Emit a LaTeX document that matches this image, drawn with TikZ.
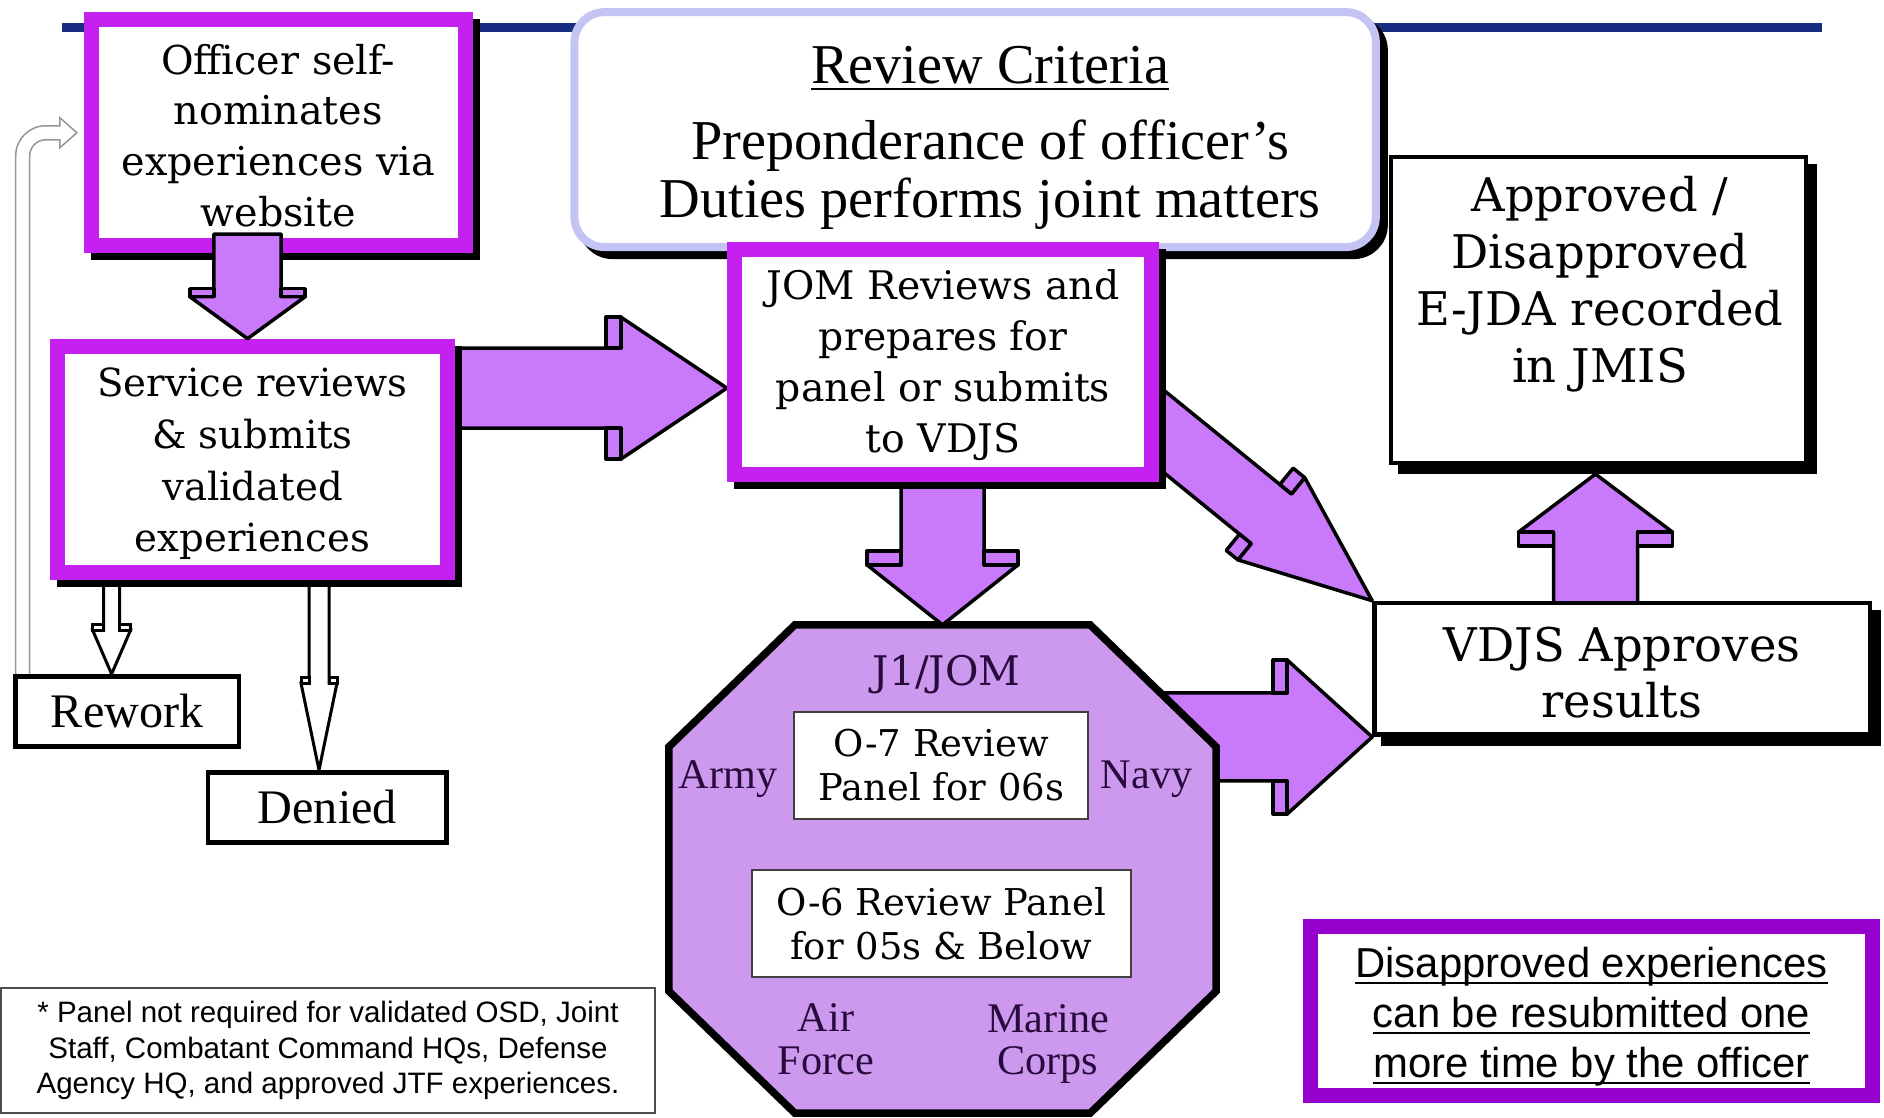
\documentclass[tikz,border=0pt]{standalone}
\usepackage{fontspec}
\setmainfont{Liberation Serif}
\setsansfont{Liberation Sans}
\newfontfamily\widefont{DejaVu Serif}
\usepackage{xcolor}
\usepackage{tikz}
\usetikzlibrary{calc,shadows,backgrounds}

\definecolor{boxpurple}{RGB}{196,32,240}
\definecolor{arrowpurple}{RGB}{200,122,250}
\definecolor{octpurple}{RGB}{204,153,238}
\definecolor{lavender}{RGB}{196,196,244}
\definecolor{navyline}{RGB}{24,44,130}
\definecolor{darkviolet}{RGB}{150,0,205}
\definecolor{octtext}{RGB}{40,10,60}
\definecolor{loopgray}{RGB}{150,150,150}

\newcommand{\pptul}[1]{\setbox0\hbox{#1}\rlap{\rule[-1.9pt]{\wd0}{0.6pt}}\box0}

% block arrow: style, from, to, shaft half width, head half width, head length, notch depth (px)
\newcommand{\blockarrow}[7][fat arrow]{%
    \coordinate (ba-b) at ($(#3)!#6*0.01cm!(#2)$);
    \coordinate (ba-n) at ($(#3)!#6*0.01cm+#7*0.01cm!(#2)$);
    \filldraw[#1] ($(#2)!#4*0.01cm!90:(#3)$) -- ($(ba-b)!#4*0.01cm!90:(#3)$)
        -- ($(ba-b)!#5*0.01cm!90:(#3)$) -- (#3)
        -- ($(ba-b)!#5*0.01cm!-90:(#3)$) -- ($(ba-b)!#4*0.01cm!-90:(#3)$)
        -- ($(#2)!#4*0.01cm!-90:(#3)$) -- cycle;
    \foreach \side in {90,-90}
        \filldraw[#1] ($(ba-n)!#4*0.01cm!\side:(#3)$) -- ($(ba-n)!#5*0.01cm!\side:(#3)$)
            -- ($(ba-b)!#5*0.01cm!\side:(#3)$) -- ($(ba-b)!#4*0.01cm!\side:(#3)$) -- cycle;
}

\begin{document}
\begin{tikzpicture}[x=0.01cm, y=-0.01cm,
        purple box/.style={draw=boxpurple, line width=0.15cm, fill=white, inner sep=0pt,
            drop shadow={shadow xshift=0.07cm, shadow yshift=-0.07cm, opacity=1, fill=black, draw=black}},
        black box/.style={draw=black, line width=0.045cm, fill=white, inner sep=0pt,
            drop shadow={shadow xshift=0.09cm, shadow yshift=-0.09cm, opacity=1, fill=black, draw=black}},
        thin box/.style={draw=black, line width=0.045cm, fill=white, inner sep=0pt,
            font=\fontsize{13.7}{16}\selectfont},
        panel box/.style={draw=black!75, line width=0.02cm, fill=white, inner sep=0pt, align=center,
            font=\widefont\fontsize{10.5}{12.4}\selectfont},
        box text/.style={align=center, inner sep=0pt},
        service label/.style={text=octtext, align=center, font=\fontsize{12}{12.2}\selectfont},
        fat arrow/.style={fill=arrowpurple, draw=black, line width=0.035cm, line join=round},
        hollow arrow/.style={fill=white, draw=black, line width=0.03cm},
        octagon fill/.style={fill=octpurple, draw=black, line width=0.075cm}]

    \useasboundingbox (0,0) rectangle (1884,1118);

    \node[purple box, minimum width=3.735cm, minimum height=2.255cm] (officer) at (278.25,132.75) {};
    \node[box text, font=\widefont\fontsize{11.3}{14.4}\selectfont] (officertext) at ($(officer.center)+(0,2.5)$)
        {Officer self-\\nominates\\experiences via\\website};
    \node[purple box, minimum width=3.9cm, minimum height=2.263cm] (service) at (252.5,459.4) {};
    \node[box text, font=\widefont\fontsize{11}{14.7}\selectfont] (servicetext) at ($(service.center)+(0,4.5)$)
        {Service reviews\\\& submits\\validated\\experiences};
    \node[purple box, minimum width=4.17cm, minimum height=2.25cm] (jom) at (943,361.7) {};
    \node[box text, font=\widefont\fontsize{11.2}{14.5}\selectfont] (jomtext) at ($(jom.center)+(0,3.8)$)
        {JOM Reviews and\\prepares for\\panel or submits\\to VDJS};
    \node[black box, minimum width=4.145cm, minimum height=3.055cm] (approved) at (1598.5,310) {};
    \node[box text, font=\widefont\fontsize{13.2}{16.2}\selectfont] (approvedtext) at ($(approved.center)+(1.5,-25.5)$)
        {Approved /\\Disapproved\\E-JDA recorded\\in JMIS};
    \node[black box, minimum width=4.95cm, minimum height=1.317cm] (vdjs) at (1622.1,668.85) {};
    \node[box text, font=\widefont\fontsize{13.2}{15.9}\selectfont] (vdjstext) at ($(vdjs.center)+(0,3.6)$)
        {VDJS Approves\\results};
    \node[thin box, minimum width=2.23cm, minimum height=0.7cm] (rework) at (127.2,711.3) {Rework};
    \node[thin box, minimum width=2.38cm, minimum height=0.7cm] (denied) at (327.3,807.35) {Denied};
    \node[draw=black!70, line width=0.015cm, fill=white, minimum width=6.54cm, minimum height=1.25cm,
        inner sep=0pt, align=center, font=\sffamily\fontsize{8.4}{10}\selectfont] (note) at (328,1050.5)
        {* Panel not required for validated OSD, Joint\\Staff, Combatant Command HQs, Defense\\Agency HQ, and approved JTF experiences.};
    \node[draw=darkviolet, line width=0.15cm, fill=white, minimum width=5.62cm, minimum height=1.69cm,
        inner sep=0pt] (resubmit) at (1591.5,1011) {};
    \node[box text, font=\sffamily\fontsize{11.9}{14.3}\selectfont] (resubmittext) at ($(resubmit.center)+(0,5.5)$)
        {\pptul{Disapproved experiences}\\\pptul{can be resubmitted one}\\\pptul{more time by the officer}};
    \node[minimum width=5.47cm, minimum height=4.88cm, inner sep=0pt, outer sep=0pt] (oct) at (942.5,869) {};

    \coordinate (a1tip) at ($(service.north)+(-5,0)$);
    \coordinate (a1start) at ($(a1tip |- officer.south)+(0,-19)$);
    \blockarrow{a1start}{a1tip}{33.6}{57.7}{42}{8}

    \coordinate (loopstart) at ($(rework.north west)+(9.35,0)$);
    \coordinate (loopend) at ($(officer.west)+(-7,0)$);
    \coordinate (loopcorner) at (loopstart |- loopend);
    \draw[loopgray, line width=0.015cm] ($(loopstart)+(-7,0)$) -- ($(loopcorner)+(-7,23)$)
        .. controls ($(loopcorner)+(-7,6.4)$) and ($(loopcorner)+(6.4,-7)$) .. ($(loopcorner)+(23,-7)$)
        -- ($(loopend)+(-17,-7)$) -- ($(loopend)+(-17,-15)$) -- (loopend) -- ($(loopend)+(-17,15)$)
        -- ($(loopend)+(-17,7)$) -- ($(loopcorner)+(23,7)$)
        .. controls ($(loopcorner)+(14.2,7)$) and ($(loopcorner)+(7,14.2)$) .. ($(loopcorner)+(7,23)$)
        -- ($(loopstart)+(7,0)$);

    \begin{scope}[on background layer]
        \fill[white] (0,0) rectangle (1884,1118);
        \draw[navyline, line width=0.08cm] (62,27.5) -- (1822,27.5);
        \node[draw=lavender, line width=0.08cm, fill=white, rounded corners=0.3cm,
            minimum width=8.009cm, minimum height=2.348cm,
            drop shadow={shadow xshift=0.08cm, shadow yshift=-0.08cm, opacity=1, fill=black, draw=black}]
            (criteria) at (975.15,129.6) {};
        \node[box text, font=\fontsize{16}{16.5}\selectfont] (criteriatext) at ($(criteria.center)+(15,8)$)
            {\pptul{Review Criteria}\\[5pt]Preponderance of officer's\\Duties performs joint matters};

        \coordinate (a2tip) at ($(jom.south west)!0.39!(jom.north west)$);
        \coordinate (a2start) at ($(service.east |- a2tip)+(-20,0)$);
        \blockarrow{a2start}{a2tip}{40}{71}{106}{15}

        \coordinate (rwtip) at ($(rework.north)+(-15.6,0)$);
        \coordinate (rwstart) at ($(rwtip |- service.south)+(0,-12)$);
        \blockarrow[hollow arrow]{rwstart}{rwtip}{8}{19}{44}{6}
        \coordinate (dntip) at ($(denied.north)+(-8.3,0)$);
        \coordinate (dnstart) at ($(dntip |- service.south)+(0,-12)$);
        \blockarrow[hollow arrow]{dnstart}{dntip}{10}{18}{87}{6}

        \coordinate (a6tip) at ($(approved.south)+(-3,9)$);
        \coordinate (a6start) at ($(a6tip |- vdjs.north)+(0,20)$);
        \blockarrow{a6start}{a6tip}{42}{77}{58}{14}

        \coordinate (a4start) at ($(jom.east)+(-59,18)$);
        \blockarrow{a4start}{vdjs.north west}{32}{53}{130}{15}

        \coordinate (a5start) at ($(oct.east |- vdjs.south west)+(-60,0)$);
        \blockarrow{a5start}{vdjs.south west}{44}{77}{85}{14}

        \filldraw[octagon fill] ($(oct.north west)+(126,0)$) -- ($(oct.north east)+(-126,0)$)
            -- ($(oct.north east)+(0,122)$) -- ($(oct.south east)+(0,-122)$)
            -- ($(oct.south east)+(-126,0)$) -- ($(oct.south west)+(126,0)$)
            -- ($(oct.south west)+(0,-122)$) -- ($(oct.north west)+(0,122)$) -- cycle;
        \node[text=octtext, font=\widefont\fontsize{11.6}{13}\selectfont, anchor=base] (jone) at (946.5,685.6) {J1/JOM};
        \node[service label, anchor=base] (army) at (728,788.4) {Army};
        \node[service label, anchor=base] (navy) at (1146.5,788) {Navy};
        \node[service label] (airforce) at (826,1039) {Air\\Force};
        \node[service label] (marines) at (1048,1044) {Marine\\Corps};
        \node[panel box, minimum width=2.935cm, minimum height=1.07cm] (osevenpanel) at (941.25,765.2)
            {O-7 Review\\Panel for 06s};
        \node[panel box, minimum width=3.78cm, minimum height=1.07cm] (osixpanel) at (941.4,923.5)
            {O-6 Review Panel\\for 05s \& Below};

        \coordinate (a3tip) at (oct.north);
        \coordinate (a3start) at ($(a3tip |- jom.south)+(0,-20)$);
        \blockarrow{a3start}{a3tip}{41.5}{75.5}{60}{14}
    \end{scope}
\end{tikzpicture}
\end{document}
